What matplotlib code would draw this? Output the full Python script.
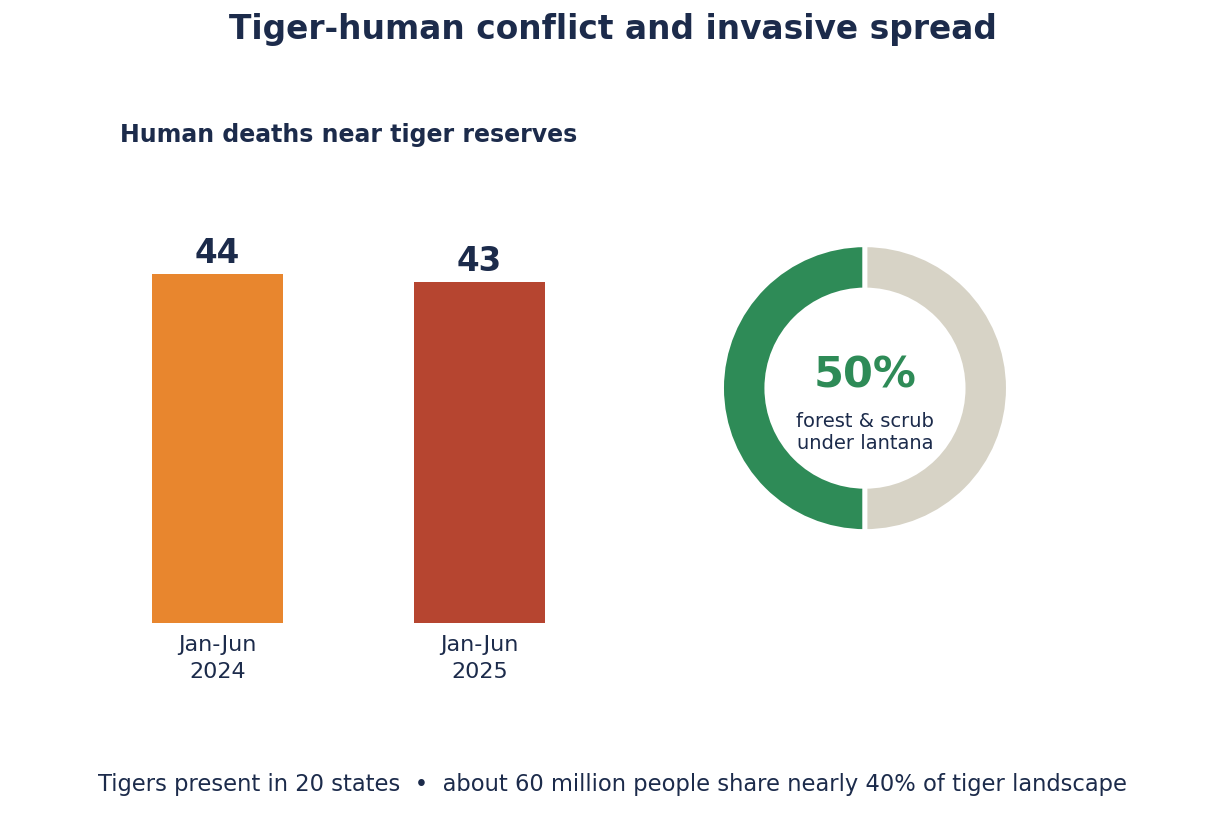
import matplotlib
matplotlib.use("Agg")
import matplotlib.pyplot as plt

# data
periods = ["Jan-Jun\n2024", "Jan-Jun\n2025"]
deaths = [44, 43]
bar_colors = ["#E8862E", "#B64530"]

lantana_share = [50, 50]
donut_colors = ["#2E8B57", "#D7D3C6"]

navy = "#1C2B4B"

fig = plt.figure(figsize=(12.25, 8.36), dpi=100)

fig.text(0.5, 0.965, "Tiger-human conflict and invasive spread",
         ha="center", va="center", fontsize=23.7, fontweight="bold", color=navy)

# bar panel
ax = fig.add_axes([0.0706, 0.2548, 0.4278, 0.4744])
x = list(range(len(deaths)))
ax.bar(x, deaths, width=0.5, color=bar_colors)
for xi, v in zip(x, deaths):
    ax.annotate(str(v), (xi, v), xytext=(0, 3), textcoords="offset points",
                ha="center", va="bottom", fontsize=23.5, fontweight="bold", color=navy)
ax.set_xlim(-0.5, 1.5)
ax.set_ylim(0, 50)
ax.set_xticks(x)
ax.set_xticklabels(periods, fontsize=16, color=navy, linespacing=1.45)
ax.tick_params(axis="x", length=0, pad=8.5)
ax.set_yticks([])
for s in ax.spines.values():
    s.set_visible(False)

fig.text(348.5 / 1225, 1 - 135 / 836, "Human deaths near tiger reserves",
         ha="center", va="center", fontsize=17, fontweight="bold", color=navy)

# donut panel
ax2 = fig.add_axes([0.5616, 0.324, 0.289, 0.4234])
ax2.pie(lantana_share, colors=donut_colors, startangle=90, counterclock=True,
        radius=1.013,
        wedgeprops=dict(width=0.32, edgecolor="white", linewidth=3.5))
ax2.set_xlim(-1.25, 1.25)
ax2.set_ylim(-1.25, 1.25)
ax2.set_aspect("equal")
ax2.axis("off")
ax2.text(0, 0.09, "50%", ha="center", va="center", fontsize=31,
         fontweight="bold", color=donut_colors[0])
ax2.text(0, -0.31, "forest & scrub\nunder lantana", ha="center", va="center",
         fontsize=14, color=navy)

fig.text(0.5, 1 - 784 / 836,
         "Tigers present in 20 states  \u2022  about 60 million people share nearly 40% of tiger landscape",
         ha="center", va="center", fontsize=16.3, color=navy)

fig.savefig("out.png", dpi=100)
